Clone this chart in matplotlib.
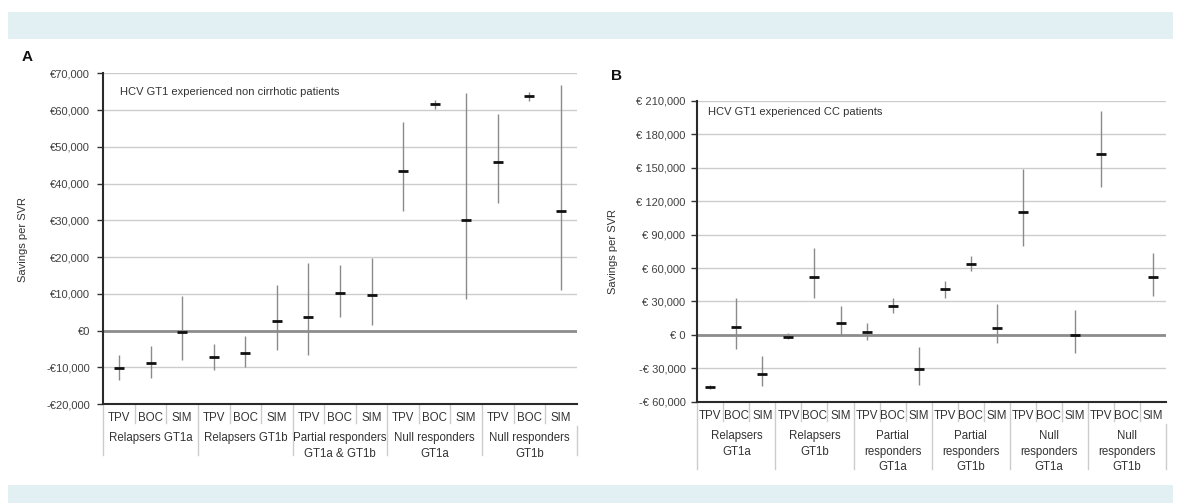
import numpy as np
import matplotlib
matplotlib.use('Agg')
import matplotlib.pyplot as plt
from matplotlib.patches import Rectangle

plt.rcParams['font.family'] = ['Liberation Sans', 'DejaVu Sans']

treatments = ['TPV', 'BOC', 'SIM']

# panel A : non cirrhotic patients
groups_a = ['Relapsers GT1a', 'Relapsers GT1b', 'Partial responders\nGT1a & GT1b',
            'Null responders\nGT1a', 'Null responders\nGT1b']
mean_a = [-10200, -8800, -400, -7300, -6000, 2600, 3800, 10200, 9700,
          43500, 61700, 30200, 45800, 63800, 32500]
low_a = [-13600, -12900, -8000, -10700, -10000, -5200, -6800, 3600, 1600,
         32500, 60300, 8600, 34600, 62400, 10900]
high_a = [-6600, -4300, 9500, -3600, -1400, 12500, 18300, 17700, 19600,
          56700, 62800, 64600, 58800, 64900, 66700]
yticks_a = [-20000, -10000, 0, 10000, 20000, 30000, 40000, 50000, 60000, 70000]
yticklabels_a = ['-€20,000', '-€10,000', '€0', '€10,000', '€20,000', '€30,000',
                 '€40,000', '€50,000', '€60,000', '€70,000']

# panel B : compensated cirrhosis
groups_b = ['Relapsers\nGT1a', 'Relapsers\nGT1b', 'Partial\nresponders\nGT1a',
            'Partial\nresponders\nGT1b', 'Null\nresponders\nGT1a', 'Null\nresponders\nGT1b']
nan = np.nan
mean_b = [-46700, 7200, -34700, -1500, 52100, 11000, 3000, 26000, -30800,
          41000, 63800, 6600, 110500, nan, 0, 162800, nan, 52400]
low_b = [-48800, -12600, -45800, -3900, 33000, 0, -4500, 19500, -44900,
         33500, 57500, -7500, 80200, nan, -16500, 132600, nan, 35300]
high_b = [-44600, 33500, -18900, 1500, 78400, 26300, 11000, 33000, -10500,
          48800, 70900, 27600, 148800, nan, 22500, 201100, nan, 73900]
yticks_b = [-60000, -30000, 0, 30000, 60000, 90000, 120000, 150000, 180000, 210000]
yticklabels_b = ['-€ 60,000', '-€ 30,000', '€ 0', '€ 30,000', '€ 60,000', '€ 90,000',
                 '€ 120,000', '€ 150,000', '€ 180,000', '€ 210,000']

W, H = 1181, 503
fig = plt.figure(figsize=(W / 100, H / 100), dpi=100)
fig.patch.set_facecolor('white')

# light blue bands top and bottom
band = '#e2f0f4'
fig.patches.append(Rectangle((8 / W, 1 - 39 / H), 1165 / W, 27 / H, transform=fig.transFigure,
                             facecolor=band, edgecolor='none'))
fig.patches.append(Rectangle((8 / W, 0), 1165 / W, 18 / H, transform=fig.transFigure,
                             facecolor=band, edgecolor='none'))

txt = '#333333'


def px_axes(left, top, right, bottom):
    return [left / W, 1 - bottom / H, (right - left) / W, (bottom - top) / H]


def draw_panel(rect, means, lows, highs, groups, yticks, yticklabels, note, note_pos,
               tick_pad, group_sep_len):
    ax = fig.add_axes(rect)
    n = len(means)
    x = np.arange(n)
    ax_h = rect[3] * H

    def below(px):
        return -px / ax_h

    ax.set_xlim(-0.5, n - 0.5)
    ax.set_ylim(yticks[0], yticks[-1])
    ax.set_yticks(yticks)
    ax.set_yticklabels(yticklabels, fontsize=8, color='#404040')
    ax.set_xticks([])
    ax.tick_params(axis='y', length=4, width=1, color='#333333', pad=tick_pad)

    for t in yticks[1:]:
        if t == 0:
            ax.axhline(0, color='#8c8c8c', lw=2, zorder=1)
        else:
            ax.axhline(t, color='#cccccc', lw=1, zorder=0)

    for sp in ('top', 'right'):
        ax.spines[sp].set_visible(False)
    for sp in ('left', 'bottom'):
        ax.spines[sp].set_color('#2a2a2a')
        ax.spines[sp].set_linewidth(1.5)

    ax.vlines(x, lows, highs, color='#8a8a8a', lw=1, zorder=2)
    ax.plot(x, means, ls='none', marker='_', ms=6.5, mew=2, color='#111111', zorder=3)

    ax.text(note_pos[0], note_pos[1], note, transform=ax.transAxes, fontsize=8,
            color=txt, va='center', ha='left')

    tr = ax.get_xaxis_transform()
    for i in range(n):
        ax.text(i, below(14), treatments[i % 3], transform=tr, ha='center', va='center',
                fontsize=8.3, color=txt)
        if i % 3 != 0:
            ax.plot([i - 0.5, i - 0.5], [0, below(19)], transform=tr, clip_on=False,
                    color='#cccccc', lw=1)
    for g, name in enumerate(groups):
        ax.text(3 * g + 1, below(28.5), name, transform=tr, ha='center', va='top',
                fontsize=8.3, color=txt, linespacing=1.4)
        ax.plot([3 * g - 0.5, 3 * g - 0.5], [0, below(group_sep_len)], transform=tr,
                clip_on=False, color='#cccccc', lw=1)
    ax.plot([n - 0.5, n - 0.5], [below(22), below(group_sep_len)], transform=tr,
            clip_on=False, color='#cccccc', lw=1)
    return ax


ax_a = draw_panel(px_axes(103.3, 73.3, 576.7, 404), mean_a, low_a, high_a, groups_a,
                  yticks_a, yticklabels_a, 'HCV GT1 experienced non cirrhotic patients',
                  (0.035, 0.944), 5.5, 51)
ax_b = draw_panel(px_axes(697.3, 101, 1166, 401.7), mean_b, low_b, high_b, groups_b,
                  yticks_b, yticklabels_b, 'HCV GT1 experienced CC patients',
                  (0.023, 0.962), 4.5, 67)

fig.text(23 / W, 1 - 239 / H, 'Savings per SVR', rotation=90, ha='center', va='center',
         fontsize=8, color=txt)
fig.text(613 / W, 1 - 251 / H, 'Savings per SVR', rotation=90, ha='center', va='center',
         fontsize=8, color=txt)
fig.text(27 / W, 1 - 57 / H, 'A', ha='center', va='center', fontsize=11,
         fontweight='bold', color='#111111')
fig.text(617 / W, 1 - 76 / H, 'B', ha='center', va='center', fontsize=11,
         fontweight='bold', color='#111111')

fig.savefig('out.png', dpi=100)
